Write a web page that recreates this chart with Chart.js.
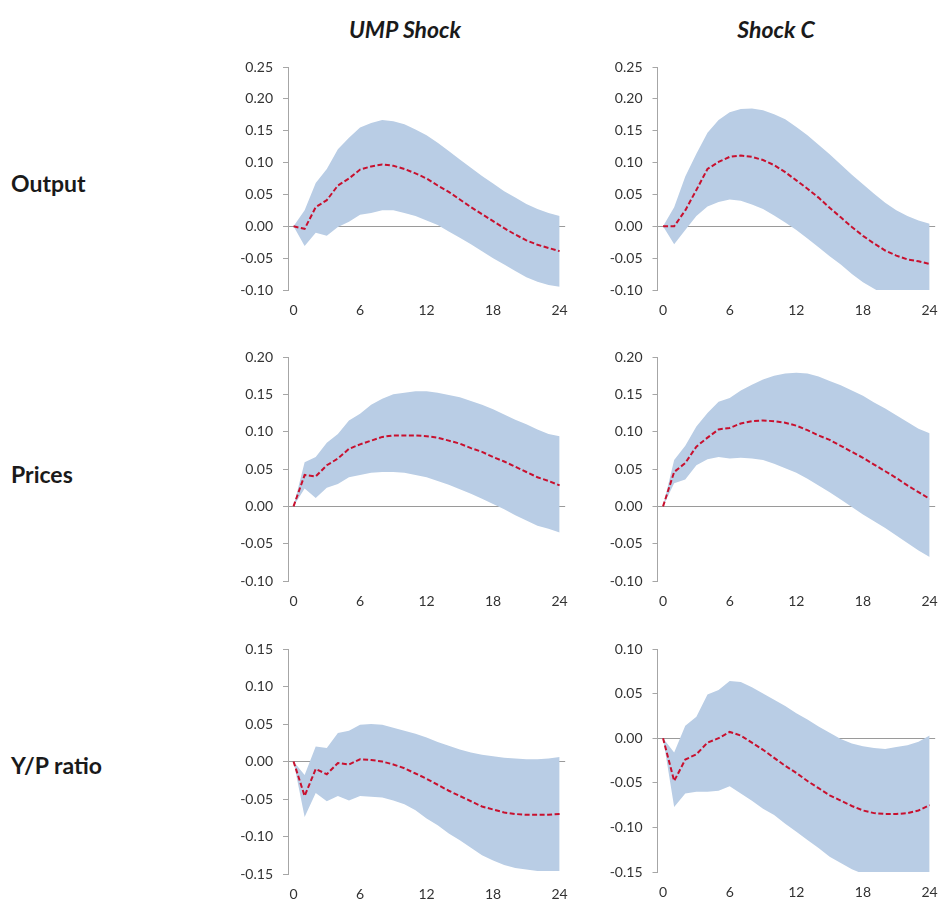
<!DOCTYPE html>
<html>
<head>
<meta charset="utf-8">
<script src="https://cdn.jsdelivr.net/npm/chart.js@4.4.1/dist/chart.umd.min.js"></script>
<style>
  html, body { margin:0; padding:0; background:#fff; overflow:hidden; width:938px; height:899px; }
  .wrap { position:absolute; }
  .lbl { position:absolute; font-family: Lato, "Open Sans", sans-serif; font-weight:bold; color:#1a1a1a; white-space:nowrap; line-height:1; }
  .title { font-style:italic; font-size:23px; transform:translate(-50%,-50%); }
  .row { font-size:23px; transform:translateY(-50%); }
</style>
</head>
<body>
<div class="lbl title" style="left:405px; top:29px;">UMP Shock</div>
<div class="lbl title" style="left:776px; top:29px;">Shock C</div>
<div class="lbl row" style="left:11px; top:183px;">Output</div>
<div class="lbl row" style="left:11px; top:474px;">Prices</div>
<div class="lbl row" style="left:11px; top:765px;">Y/P ratio</div>

<div class="wrap" id="w1" style="left:200px; top:47px; width:380px; height:283px;"><canvas id="c1"></canvas></div>
<div class="wrap" id="w2" style="left:570px; top:47px; width:380px; height:283px;"><canvas id="c2"></canvas></div>
<div class="wrap" id="w3" style="left:200px; top:337px; width:380px; height:284px;"><canvas id="c3"></canvas></div>
<div class="wrap" id="w4" style="left:570px; top:337px; width:380px; height:284px;"><canvas id="c4"></canvas></div>
<div class="wrap" id="w5" style="left:200px; top:629px; width:380px; height:285px;"><canvas id="c5"></canvas></div>
<div class="wrap" id="w6" style="left:570px; top:629px; width:380px; height:283px;"><canvas id="c6"></canvas></div>

<script>
// Horizon (months)
const periods = [0,1,2,3,4,5,6,7,8,9,10,11,12,13,14,15,16,17,18,19,20,21,22,23,24];
const xTickLabels = ['0','6','12','18','24'];

// Output — UMP Shock
const outUmpMedian = [0,-0.004,0.030,0.041,0.064,0.075,0.089,0.094,0.097,0.095,0.090,0.083,0.075,0.064,0.054,0.042,0.030,0.019,0.008,-0.003,-0.013,-0.022,-0.029,-0.034,-0.039];
const outUmpUpper  = [0,0.025,0.068,0.090,0.121,0.139,0.155,0.162,0.167,0.165,0.160,0.152,0.143,0.131,0.118,0.105,0.092,0.079,0.067,0.055,0.045,0.035,0.027,0.021,0.016];
const outUmpLower  = [0,-0.031,-0.010,-0.015,-0.001,0.007,0.018,0.021,0.025,0.025,0.021,0.016,0.009,0.002,-0.008,-0.018,-0.028,-0.039,-0.050,-0.060,-0.070,-0.080,-0.087,-0.092,-0.095];

// Output — Shock C
const outCMedian = [0,0.000,0.025,0.057,0.090,0.101,0.109,0.111,0.109,0.104,0.096,0.085,0.072,0.059,0.045,0.029,0.014,-0.001,-0.015,-0.027,-0.038,-0.046,-0.052,-0.055,-0.059];
const outCUpper  = [0,0.030,0.078,0.114,0.147,0.167,0.179,0.184,0.185,0.182,0.176,0.168,0.156,0.143,0.128,0.113,0.097,0.081,0.066,0.051,0.037,0.025,0.016,0.009,0.004];
const outCLower  = [0,-0.028,-0.006,0.016,0.031,0.038,0.042,0.040,0.034,0.027,0.017,0.006,-0.006,-0.019,-0.033,-0.047,-0.060,-0.075,-0.088,-0.098,-0.108,-0.115,-0.120,-0.123,-0.125];

// Prices — UMP Shock
const priUmpMedian = [0,0.042,0.040,0.055,0.064,0.077,0.083,0.088,0.093,0.095,0.095,0.095,0.094,0.092,0.088,0.084,0.078,0.073,0.066,0.060,0.053,0.046,0.039,0.034,0.028];
const priUmpUpper  = [0,0.059,0.066,0.085,0.097,0.115,0.124,0.136,0.144,0.150,0.152,0.154,0.154,0.152,0.149,0.146,0.141,0.136,0.130,0.123,0.116,0.110,0.103,0.097,0.094];
const priUmpLower  = [0,0.024,0.011,0.025,0.030,0.039,0.042,0.045,0.046,0.046,0.045,0.042,0.039,0.034,0.029,0.023,0.017,0.010,0.003,-0.004,-0.012,-0.019,-0.026,-0.030,-0.035];

// Prices — Shock C
const priCMedian = [0,0.046,0.058,0.080,0.092,0.103,0.105,0.111,0.114,0.115,0.114,0.112,0.108,0.102,0.095,0.089,0.081,0.073,0.065,0.056,0.047,0.038,0.028,0.019,0.010];
const priCUpper  = [0,0.062,0.081,0.107,0.125,0.140,0.145,0.155,0.163,0.170,0.175,0.178,0.179,0.178,0.174,0.168,0.162,0.155,0.148,0.139,0.131,0.122,0.113,0.104,0.098];
const priCLower  = [0,0.031,0.036,0.055,0.063,0.066,0.064,0.065,0.064,0.062,0.057,0.051,0.045,0.037,0.028,0.019,0.009,-0.001,-0.011,-0.020,-0.029,-0.039,-0.049,-0.059,-0.068];

// Y/P ratio — UMP Shock
const ypUmpMedian = [0,-0.046,-0.010,-0.017,-0.002,-0.004,0.003,0.002,0.000,-0.004,-0.009,-0.016,-0.023,-0.031,-0.039,-0.046,-0.053,-0.060,-0.064,-0.068,-0.070,-0.071,-0.071,-0.071,-0.070];
const ypUmpUpper  = [0,-0.018,0.020,0.018,0.038,0.041,0.049,0.050,0.049,0.045,0.041,0.037,0.032,0.026,0.021,0.016,0.012,0.009,0.007,0.005,0.004,0.003,0.003,0.004,0.006];
const ypUmpLower  = [0,-0.074,-0.042,-0.053,-0.046,-0.052,-0.046,-0.047,-0.048,-0.052,-0.057,-0.065,-0.076,-0.085,-0.096,-0.105,-0.115,-0.125,-0.132,-0.138,-0.142,-0.144,-0.146,-0.146,-0.146];

// Y/P ratio — Shock C
const ypCMedian = [0,-0.048,-0.024,-0.018,-0.005,0.000,0.007,0.003,-0.005,-0.013,-0.022,-0.031,-0.039,-0.048,-0.056,-0.064,-0.070,-0.076,-0.081,-0.084,-0.085,-0.085,-0.084,-0.081,-0.075];
const ypCUpper  = [0,-0.016,0.014,0.024,0.049,0.054,0.064,0.063,0.057,0.050,0.043,0.036,0.028,0.021,0.013,0.006,-0.001,-0.006,-0.009,-0.011,-0.012,-0.010,-0.008,-0.004,0.003];
const ypCLower  = [0,-0.077,-0.062,-0.060,-0.060,-0.059,-0.054,-0.062,-0.070,-0.079,-0.086,-0.096,-0.105,-0.114,-0.123,-0.133,-0.140,-0.147,-0.152,-0.157,-0.161,-0.164,-0.166,-0.167,-0.168];

const BAND = '#b9cde5';
const MED = '#c8102e';
const AXIS = '#a6a6a6';
const TXT = '#333333';

function makeChart(id, yMin, yMax, upper, lower, median, yWidth) {
  const ctx = document.getElementById(id);
  return new Chart(ctx, {
    type: 'line',
    data: {
      labels: periods.map(String),
      datasets: [
        { data: upper, borderWidth: 0, borderColor: 'transparent', backgroundColor: BAND, fill: '+1', pointRadius: 0, tension: 0, order: 1 },
        { data: lower, borderWidth: 0, borderColor: 'transparent', backgroundColor: BAND, fill: false, pointRadius: 0, tension: 0, order: 2 },
        { data: median, borderWidth: 2, borderColor: MED, borderDash: [5, 2.5], fill: false, pointRadius: 0, tension: 0, order: 0 }
      ]
    },
    options: {
      responsive: true,
      maintainAspectRatio: false,
      animation: false,
      events: [],
      layout: { padding: { top: 20, right: 13, left: 0, bottom: 0 } },
      plugins: { legend: { display: false }, tooltip: { enabled: false } },
      scales: {
        x: {
          type: 'category',
          offset: true,
          grid: { display: false, drawTicks: false },
          border: { display: false },
          ticks: {
            autoSkip: false,
            maxRotation: 0,
            padding: 12,
            color: TXT,
            font: { family: 'Lato', size: 14 },
            callback: function(v, i) {
              const lab = this.getLabelForValue(v);
              return xTickLabels.includes(lab) ? lab : '';
            }
          },
          afterFit: s => { s.height = 40; }
        },
        y: {
          min: yMin, max: yMax,
          z: 1,
          border: { display: true, color: AXIS, width: 1 },
          grid: {
            drawTicks: true,
            tickLength: 5,
            tickColor: AXIS,
            color: c => (c.tick && Math.abs(c.tick.value) < 1e-9) ? '#9a9a9a' : 'transparent',
            lineWidth: 1
          },
          ticks: {
            stepSize: 0.05,
            padding: 10,
            color: TXT,
            font: { family: 'Lato', size: 14 },
            callback: v => (Math.abs(v) < 1e-9 ? 0 : v).toFixed(2)
          },
          afterFit: s => { s.width = yWidth; }
        }
      }
    }
  });
}

makeChart('c1', -0.10, 0.25, outUmpUpper, outUmpLower, outUmpMedian, 88);
makeChart('c2', -0.10, 0.25, outCUpper, outCLower, outCMedian, 87.5);
makeChart('c3', -0.10, 0.20, priUmpUpper, priUmpLower, priUmpMedian, 88);
makeChart('c4', -0.10, 0.20, priCUpper, priCLower, priCMedian, 87.5);
makeChart('c5', -0.15, 0.15, ypUmpUpper, ypUmpLower, ypUmpMedian, 88);
makeChart('c6', -0.15, 0.10, ypCUpper, ypCLower, ypCMedian, 87.5);
</script>
</body>
</html>
